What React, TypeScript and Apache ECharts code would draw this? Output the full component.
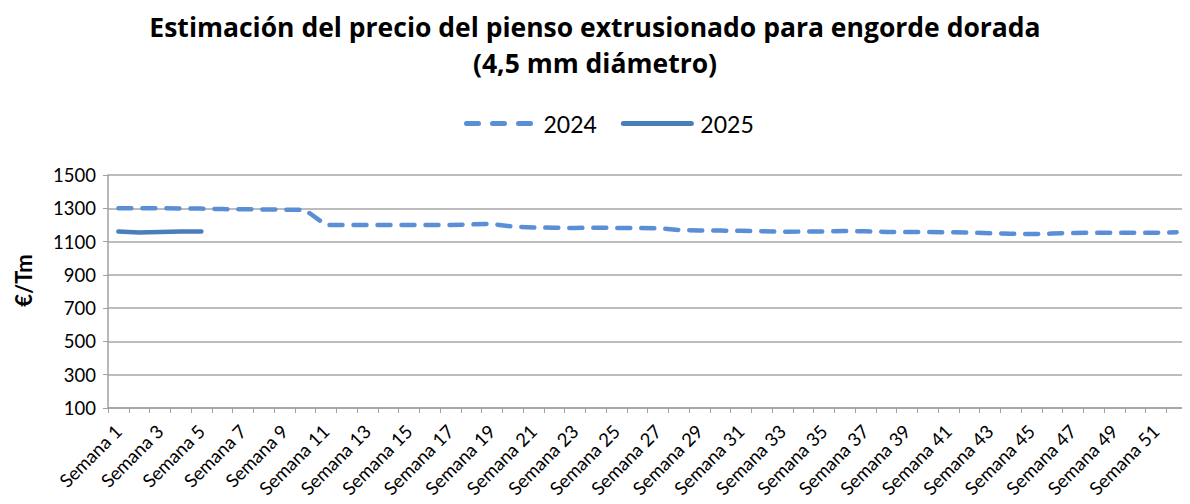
import React, { useEffect, useRef } from "react";
import * as echarts from "echarts";

const weeks: string[] = Array.from({ length: 52 }, (_, i) => `Semana ${i + 1}`);

const values2024: number[] = [
  1300, 1300, 1300, 1299, 1298, 1295, 1294, 1293, 1292, 1290,
  1200, 1200, 1199, 1199, 1199, 1200, 1200, 1203, 1206, 1190,
  1185, 1183, 1182, 1183, 1182, 1181, 1180, 1170, 1166, 1166,
  1165, 1162, 1159, 1160, 1161, 1163, 1162, 1158, 1157, 1157,
  1156, 1154, 1150, 1147, 1145, 1148, 1152, 1153, 1153, 1153,
  1153, 1156,
];

const values2025: number[] = [1160, 1155, 1158, 1160, 1160];

const yMin = 100;
const yMax = 1500;
const yStep = 200;

const FONT = "Lato, 'Open Sans', sans-serif";
const TITLE_FONT = "'Open Sans', Lato, sans-serif";
const C2024 = "#5a8fd7";
const C2025 = "#4a7ebb";

export default function App() {
  const ref = useRef<HTMLDivElement>(null);

  useEffect(() => {
    if (!ref.current) return;
    const chart = echarts.init(ref.current, null, { renderer: "svg" });
    chart.setOption({
      animation: false,
      backgroundColor: "#ffffff",
      title: {
        text: "Estimación del precio del pienso extrusionado para engorde dorada\n(4,5 mm diámetro)",
        left: "center",
        top: 4,
        textStyle: {
          fontFamily: TITLE_FONT,
          fontSize: 26.5,
          fontWeight: "bold",
          color: "#000000",
          lineHeight: 36,
        },
      },
      legend: {
        top: 107,
        left: 459,
        itemWidth: 68,
        itemHeight: 14,
        itemGap: 24,
        textStyle: { fontFamily: FONT, fontSize: 23, color: "#000", padding: [0, 0, 0, 4] },
        itemStyle: { opacity: 0 },
        data: [
          { name: "2024", lineStyle: { width: 5, type: [12, 14], cap: "round", color: C2024 } },
          { name: "2025", lineStyle: { width: 5, type: "solid", cap: "round", color: C2025 } },
        ],
      },
      grid: { left: 108, right: 3, top: 175, bottom: 96, containLabel: false },
      xAxis: {
        type: "category",
        data: weeks,
        boundaryGap: true,
        axisLine: { lineStyle: { color: "#a0a0a0", width: 1.5 } },
        axisTick: { show: true, interval: 0, length: 5, lineStyle: { color: "#a0a0a0" } },
        axisLabel: {
          interval: 1,
          rotate: 45,
          fontFamily: FONT,
          fontSize: 18.5,
          color: "#000",
          margin: 20,
        },
      },
      yAxis: {
        type: "value",
        min: yMin,
        max: yMax,
        interval: yStep,
        name: "€/Tm",
        nameLocation: "middle",
        nameGap: 74,
        nameTextStyle: {
          fontFamily: FONT,
          fontSize: 22,
          fontWeight: "bold",
          color: "#000",
          padding: [0, 0, 0, 22],
        },
        axisLine: { show: true, lineStyle: { color: "#a0a0a0", width: 1.5 } },
        axisTick: { show: true, length: 5, lineStyle: { color: "#a0a0a0" } },
        axisLabel: {
          fontFamily: FONT,
          fontSize: 18.5,
          color: "#000",
          margin: 12,
          formatter: (v: number) => String(v),
        },
        splitLine: { show: true, lineStyle: { color: "#a6a6a6", width: 1.5 } },
      },
      series: [
        {
          name: "2024",
          type: "line",
          data: values2024,
          symbol: "none",
          smooth: false,
          lineStyle: { color: C2024, width: 4.5, type: [13, 11], cap: "round", join: "round" },
          itemStyle: { color: C2024 },
        },
        {
          name: "2025",
          type: "line",
          data: values2025,
          symbol: "none",
          lineStyle: { color: C2025, width: 4.5, type: "solid", cap: "round" },
          itemStyle: { color: C2025 },
        },
      ],
    });
    return () => chart.dispose();
  }, []);

  return <div ref={ref} style={{ width: 1190, height: 504, margin: -8 }} />;
}
